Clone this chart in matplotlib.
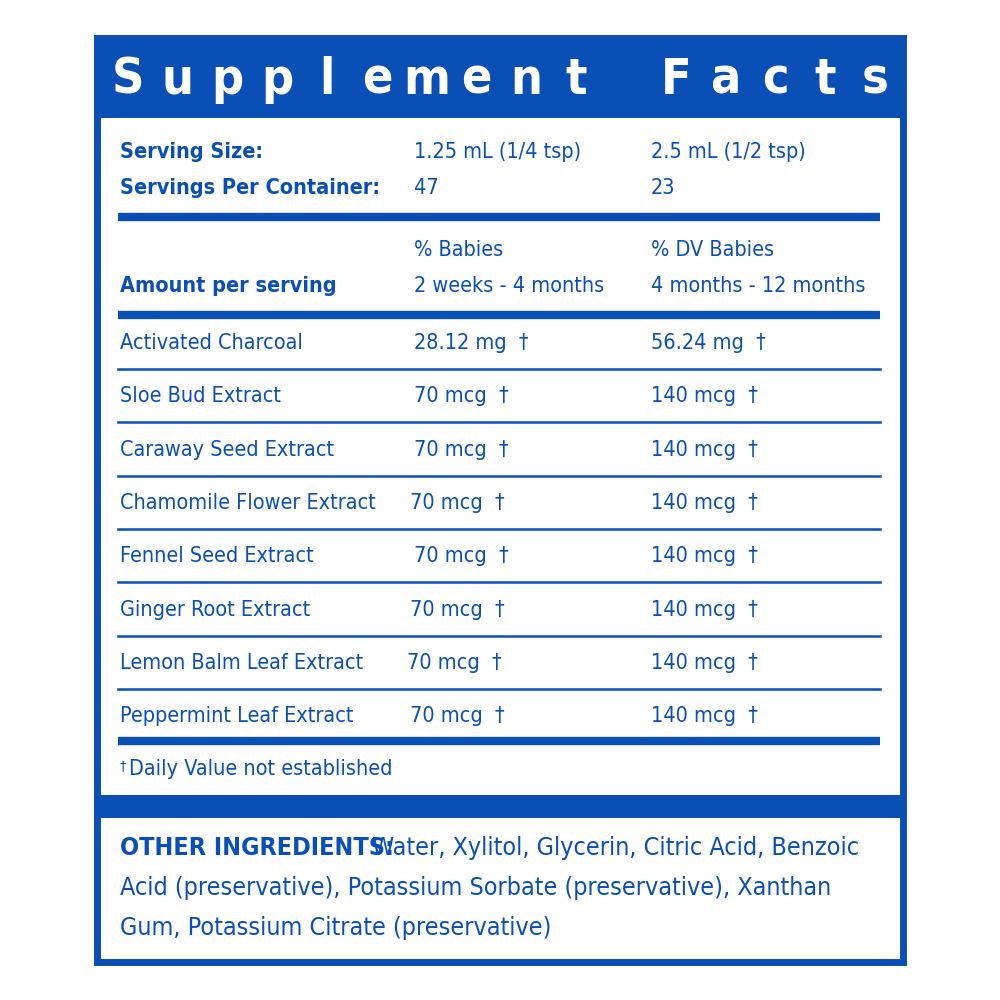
import matplotlib
matplotlib.use("Agg")
import matplotlib.pyplot as plt
from matplotlib.patches import Rectangle

BLUE = "#0a4fb5"
plt.rcParams['font.family'] = ['DejaVu Sans']
plt.rcParams['font.stretch'] = 'condensed'

title = "Supplement Facts"
serving_labels = ["Serving Size:", "Servings Per Container:"]
serving_col1 = ["1.25 mL (1/4 tsp)", "47"]
serving_col2 = ["2.5 mL (1/2 tsp)", "23"]
header_col1 = ["% Babies", "2 weeks - 4 months"]
header_col2 = ["% DV Babies", "4 months - 12 months"]
ingredients = ["Activated Charcoal", "Sloe Bud Extract", "Caraway Seed Extract",
               "Chamomile Flower Extract", "Fennel Seed Extract", "Ginger Root Extract",
               "Lemon Balm Leaf Extract", "Peppermint Leaf Extract"]
amount1 = ["28.12 mg", "70 mcg", "70 mcg", "70 mcg", "70 mcg", "70 mcg", "70 mcg", "70 mcg"]
amount2 = ["56.24 mg", "140 mcg", "140 mcg", "140 mcg", "140 mcg", "140 mcg", "140 mcg", "140 mcg"]
col1_x = [414, 414, 414, 410, 414, 410, 407, 410]
footnote = "Daily Value not established"
other_lines = ["Water, Xylitol, Glycerin, Citric Acid, Benzoic",
               "Acid (preservative), Potassium Sorbate (preservative), Xanthan",
               "Gum, Potassium Citrate (preservative)"]

fig = plt.figure(figsize=(10, 10), dpi=100)
ax = fig.add_axes([0, 0, 1, 1])
ax.set_xlim(0, 1000); ax.set_ylim(1000, 0); ax.axis('off')

ax.add_patch(Rectangle((97, 38), 806, 924, fc='none', ec=BLUE, lw=5))
ax.add_patch(Rectangle((97, 38), 806, 80, fc=BLUE, ec='none'))
ax.add_patch(Rectangle((97, 795), 806, 23, fc=BLUE, ec='none'))

xs = 128
step = (875 - 128) / (len(title) - 1)
for i, ch in enumerate(title):
    ax.text(xs + i * step, 80, ch, color='white', fontsize=36, fontweight='bold',
            ha='center', va='center')

fs = 15.5
for i, (a, b, c) in enumerate(zip(serving_labels, serving_col1, serving_col2)):
    y = 152 + i * 36
    ax.text(120, y, a, color=BLUE, fontsize=fs, fontweight='bold', va='center')
    ax.text(414, y, b, color=BLUE, fontsize=fs, va='center')
    ax.text(651, y, c, color=BLUE, fontsize=fs, va='center')

ax.plot([118, 880], [217, 217], color=BLUE, lw=6, solid_capstyle='butt')
for i in range(2):
    y = 250 + i * 36
    ax.text(414, y, header_col1[i], color=BLUE, fontsize=fs, va='center')
    ax.text(651, y, header_col2[i], color=BLUE, fontsize=fs, va='center')
ax.text(120, 286, "Amount per serving", color=BLUE, fontsize=fs, fontweight='bold', va='center')
ax.plot([118, 880], [315, 315], color=BLUE, lw=6, solid_capstyle='butt')

row_h = 53.3
for i, (n, a1, a2) in enumerate(zip(ingredients, amount1, amount2)):
    yc = 343 + i * row_h
    ax.text(120, yc, n, color=BLUE, fontsize=fs, va='center')
    ax.text(col1_x[i], yc, a1 + "  \u2020", color=BLUE, fontsize=fs, va='center')
    ax.text(651, yc, a2 + "  \u2020", color=BLUE, fontsize=fs, va='center')
    yl = 369 + i * row_h
    if i < len(ingredients) - 1:
        ax.plot([118, 880], [yl, yl], color=BLUE, lw=1.8)
ax.plot([118, 880], [741, 741], color=BLUE, lw=6, solid_capstyle='butt')
ax.text(120, 767, "\u2020", color=BLUE, fontsize=10, va='center')
ax.text(129, 769, footnote, color=BLUE, fontsize=fs, va='center')

fo = 18
ax.text(120, 848, "OTHER INGREDIENTS:", color=BLUE, fontsize=fo, fontweight='bold', va='center')
ax.text(372, 848, other_lines[0], color=BLUE, fontsize=fo, va='center')
ax.text(120, 888, other_lines[1], color=BLUE, fontsize=fo, va='center')
ax.text(120, 928, other_lines[2], color=BLUE, fontsize=fo, va='center')

fig.savefig("out.png", dpi=100, facecolor='white')
